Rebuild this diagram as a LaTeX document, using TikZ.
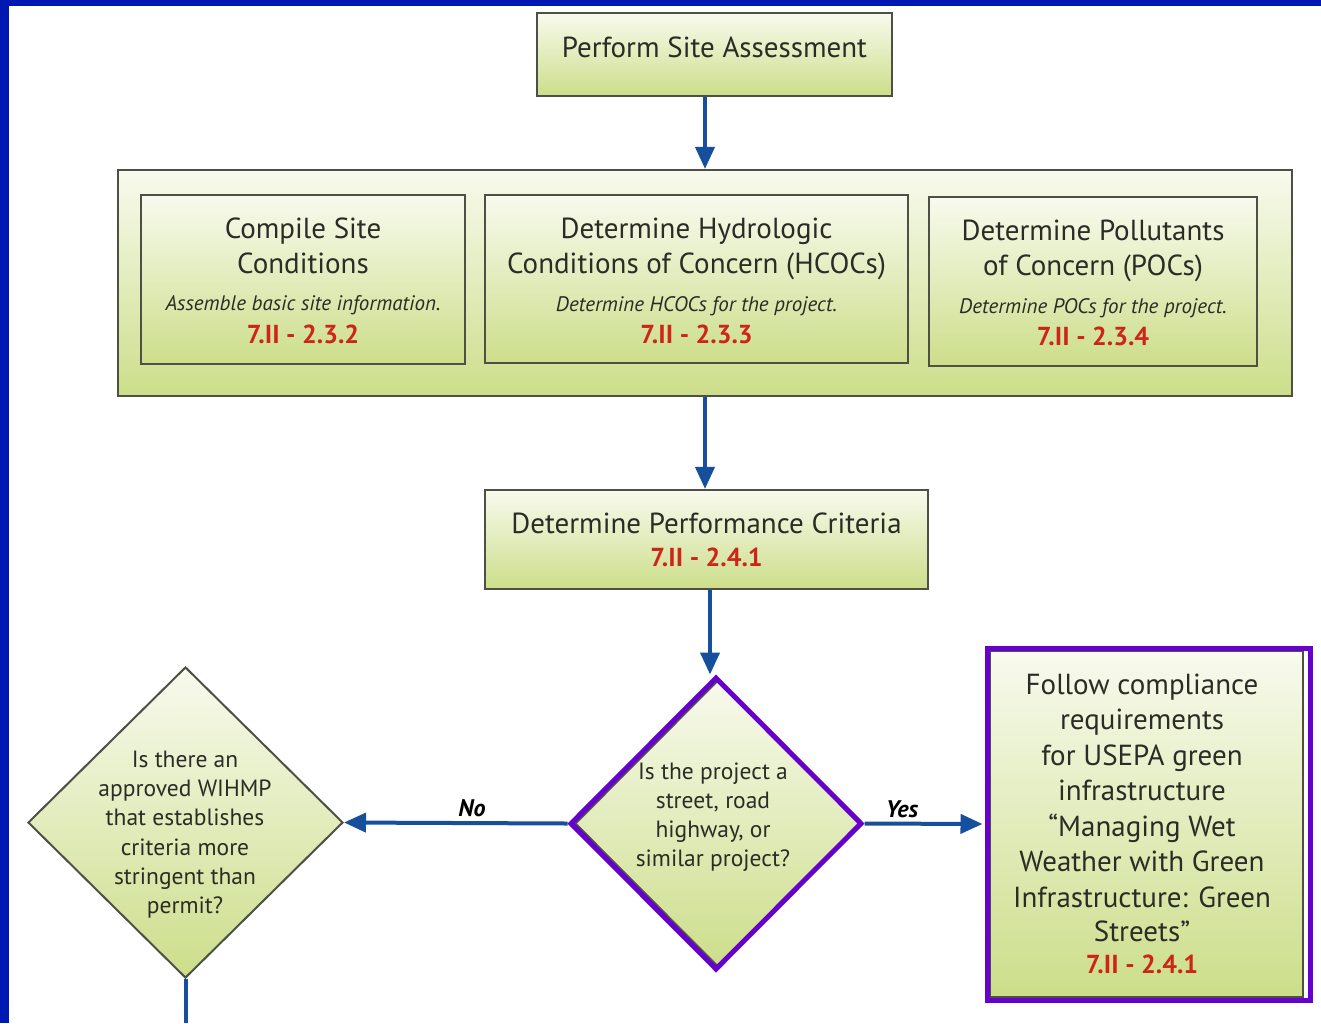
\documentclass[tikz,border=0pt]{standalone}
\usepackage{fontspec}
\setmainfont{PT Sans}
\usetikzlibrary{arrows.meta,shapes.geometric}
\definecolor{gtop}{RGB}{248,250,238}
\definecolor{gbot}{RGB}{204,222,138}
\definecolor{edgegray}{RGB}{78,80,70}
\definecolor{arrowblue}{RGB}{22,80,156}
\definecolor{refred}{RGB}{205,38,24}
\definecolor{hlpurple}{RGB}{102,0,204}
\definecolor{bgblue}{RGB}{0,24,178}
\definecolor{txtgray}{RGB}{44,44,38}
\begin{document}
\begin{tikzpicture}[x=1pt,y=-1pt,
  box/.style={draw=edgegray, line width=2.2pt, top color=gtop, bottom color=gbot, inner sep=0pt, rectangle},
  diam/.style={diamond, draw=edgegray, line width=2pt, top color=gtop, bottom color=gbot, inner sep=0pt, aspect=1},
  hlbox/.style={draw=hlpurple, line width=5pt, inner sep=0pt, fill=none},
  arr/.style={draw=arrowblue, line width=4pt, -{Triangle[length=22pt,width=19pt]}},
  plain/.style={draw=arrowblue, line width=4pt},
  ttl/.style={anchor=base, inner sep=0pt, text=txtgray, font=\fontsize{29}{34}\selectfont},
  sub/.style={anchor=base, inner sep=0pt, text=txtgray, font=\fontsize{21}{25}\selectfont\itshape},
  ref/.style={anchor=base, inner sep=0pt, text=refred, font=\fontsize{26}{30}\selectfont\bfseries},
  dtx/.style={anchor=base, inner sep=0pt, text=txtgray, font=\fontsize{23.5}{28}\selectfont},
  yn/.style={anchor=base, inner sep=0pt, text=black, font=\fontsize{24}{28}\selectfont\bfseries\itshape}
]
\useasboundingbox (0,0) rectangle (1321,1023);
\fill[white] (0,0) rectangle (1321,1023);
\fill[bgblue] (0,0) rectangle (9,1023);
\fill[bgblue] (0,0) rectangle (1321,6);

% top box
\node[box, minimum width=355, minimum height=83] (top) at (714.5,54.5) {};
\node[ttl] (topt) at (714.5,57) {Perform Site Assessment};

% outer container
\node[box, minimum width=1174, minimum height=226] (outer) at (705,283) {};

\node[box, minimum width=324, minimum height=169] (b1) at (303,279.5) {};
\node[ttl] (b1a) at (303,238) {Compile Site};
\node[ttl] (b1b) at (303,273) {Conditions};
\node[sub] (b1c) at (303,310) {Assemble basic site information.};
\node[ref] (b1d) at (303,343) {7.II - 2.3.2};

\node[box, minimum width=423, minimum height=168] (b2) at (696.5,279) {};
\node[ttl] (b2a) at (696.5,238) {Determine Hydrologic};
\node[ttl] (b2b) at (696.5,273) {Conditions of Concern (HCOCs)};
\node[sub] (b2c) at (696.5,311) {Determine HCOCs for the project.};
\node[ref] (b2d) at (696.5,343) {7.II - 2.3.3};

\node[box, minimum width=328, minimum height=169] (b3) at (1093,281.5) {};
\node[ttl] (b3a) at (1093,240) {Determine Pollutants};
\node[ttl] (b3b) at (1093,275) {of Concern (POCs)};
\node[sub] (b3c) at (1093,313) {Determine POCs for the project.};
\node[ref] (b3d) at (1093,345) {7.II - 2.3.4};

% performance criteria
\node[box, minimum width=443, minimum height=99] (perf) at (706.5,539.5) {};
\node[ttl] (perfa) at (706.5,533) {Determine Performance Criteria};
\node[ref] (perfb) at (706.5,566) {7.II - 2.4.1};

% centre decision
\node[diam, minimum width=286, minimum height=287] (cd) at (718,823.5) {};
\node[diamond, hlbox, aspect=1, minimum width=292, minimum height=293] (cdhl) at (716,823.5) {};
\node[dtx] (cd1) at (713,779) {Is the project a};
\node[dtx] (cd2) at (713,808) {street, road};
\node[dtx] (cd3) at (713,837) {highway, or};
\node[dtx] (cd4) at (713,866) {similar project?};

% left decision
\node[diam, minimum width=315, minimum height=311] (ld) at (185.5,822.5) {};
\node[dtx] (ld1) at (185,767) {Is there an};
\node[dtx] (ld2) at (185,796) {approved WIHMP};
\node[dtx] (ld3) at (185,825) {that establishes};
\node[dtx] (ld4) at (185,855) {criteria more};
\node[dtx] (ld5) at (185,884) {stringent than};
\node[dtx] (ld6) at (185,913) {permit?};

% right box
\node[box, minimum width=313, minimum height=346] (rb) at (1146.5,824) {};
\node[hlbox, rectangle, minimum width=323, minimum height=352] (hl) at (1148.5,824) {};
\node[ttl] (rb1) at (1142,694) {Follow compliance};
\node[ttl] (rb2) at (1142,729) {requirements};
\node[ttl] (rb3) at (1142,765) {for USEPA green};
\node[ttl] (rb4) at (1142,800) {infrastructure};
\node[ttl] (rb5) at (1142,836) {“Managing Wet};
\node[ttl] (rb6) at (1142,871) {Weather with Green};
\node[ttl] (rb7) at (1142,907) {Infrastructure: Green};
\node[ttl] (rb8) at (1142,941) {Streets”};
\node[ref] (rb9) at (1142,973) {7.II - 2.4.1};

% connectors
\draw[arr] (top.south -| outer.north) -- (outer.north);
\draw[arr] (outer.south) -- (perf.north -| outer.south);
\draw[arr] ([xshift=3.5pt]perf.south) -- ([xshift=-6pt]cdhl.north);
\draw[arr] (cdhl.west) -- (ld.east);
\draw[arr, shorten >=2pt] (cdhl.east) -- (hl.west);
\coordinate (lend) at (185.5,1023);
\draw[plain] (ld.south) -- (lend);

\node[yn] (no) at (472,816) {No};
\node[yn] (yes) at (902,817) {Yes};
\end{tikzpicture}
\end{document}
